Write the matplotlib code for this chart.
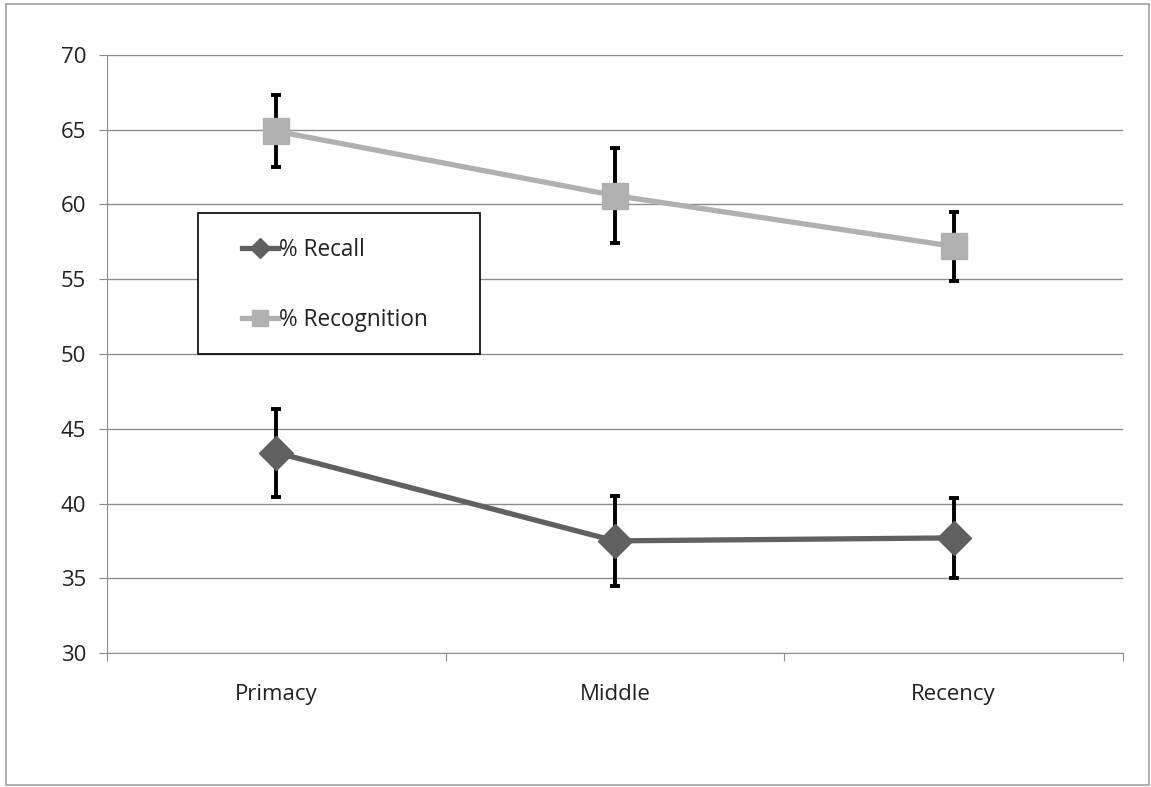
import matplotlib
matplotlib.use('Agg')
import matplotlib.pyplot as plt
from matplotlib.patches import Rectangle

plt.rcParams['font.family'] = ['Open Sans', 'DejaVu Sans']

categories = ['Primacy', 'Middle', 'Recency']
recall = [43.4, 37.5, 37.7]
recall_err = [2.95, 3.0, 2.7]
recognition = [64.9, 60.6, 57.2]
recognition_err = [2.4, 3.15, 2.3]
yticks = [30, 35, 40, 45, 50, 55, 60, 65, 70]

fig = plt.figure(figsize=(11.51, 7.87), dpi=100)
ax = fig.add_axes([107/1151, 1-653/787, 1016/1151, 598/787])

# outer chart border
fig.patches.append(Rectangle((6/1151, 2/787), 1143/1151, 781/787, transform=fig.transFigure,
                             fill=False, edgecolor='#a0a0a0', linewidth=1.2))

x = [i + 0.5 for i in range(len(categories))]

ax.errorbar(x, recall, yerr=recall_err, fmt='none', ecolor='black', elinewidth=2.8,
            capsize=3.5, capthick=2.8, zorder=3)
ax.errorbar(x, recognition, yerr=recognition_err, fmt='none', ecolor='black', elinewidth=2.8,
            capsize=3.5, capthick=2.8, zorder=3)
l1, = ax.plot(x, recall, color='#606060', linewidth=3.8, marker='D', markersize=17,
              label='% Recall', zorder=4)
l2, = ax.plot(x, recognition, color='#b0b0b0', linewidth=3.8, marker='s', markersize=19,
              label='% Recognition', zorder=4)

ax.set_xlim(0, 3)
ax.set_ylim(30, 70)
ax.set_yticks(yticks)
ax.yaxis.grid(True, color='#8c8c8c', linewidth=1)
ax.set_axisbelow(True)
ax.tick_params(axis='y', length=6, color='#8c8c8c', labelsize=16, pad=9, labelcolor='#222222')

ax.set_xticks([0, 1, 2, 3])
ax.set_xticklabels([])
ax.tick_params(axis='x', length=6, color='#8c8c8c')
ax.set_xticks(x, minor=True)
ax.set_xticklabels(categories, minor=True)
ax.tick_params(axis='x', which='minor', length=0, labelsize=16, pad=22, labelcolor='#222222')

for side in ['top', 'right']:
    ax.spines[side].set_visible(False)
for side in ['left', 'bottom']:
    ax.spines[side].set_color('#8c8c8c')

# legend box
ax.add_patch(Rectangle(((198-107)/1016, (653-354)/598), 282/1016, 141/598,
                       transform=ax.transAxes, fill=True, facecolor='white',
                       edgecolor='black', linewidth=1.2, zorder=5))
leg = ax.legend(handles=[l1, l2], loc='upper left', bbox_to_anchor=((242-107)/1016, (653-238)/598),
                frameon=False, fontsize=16.3, handlelength=1.6, handletextpad=0.05,
                labelspacing=2.05, borderpad=0, borderaxespad=0, markerscale=0.6,
                labelcolor='#222222')
leg.set_zorder(6)

fig.savefig('out.png', dpi=100)
